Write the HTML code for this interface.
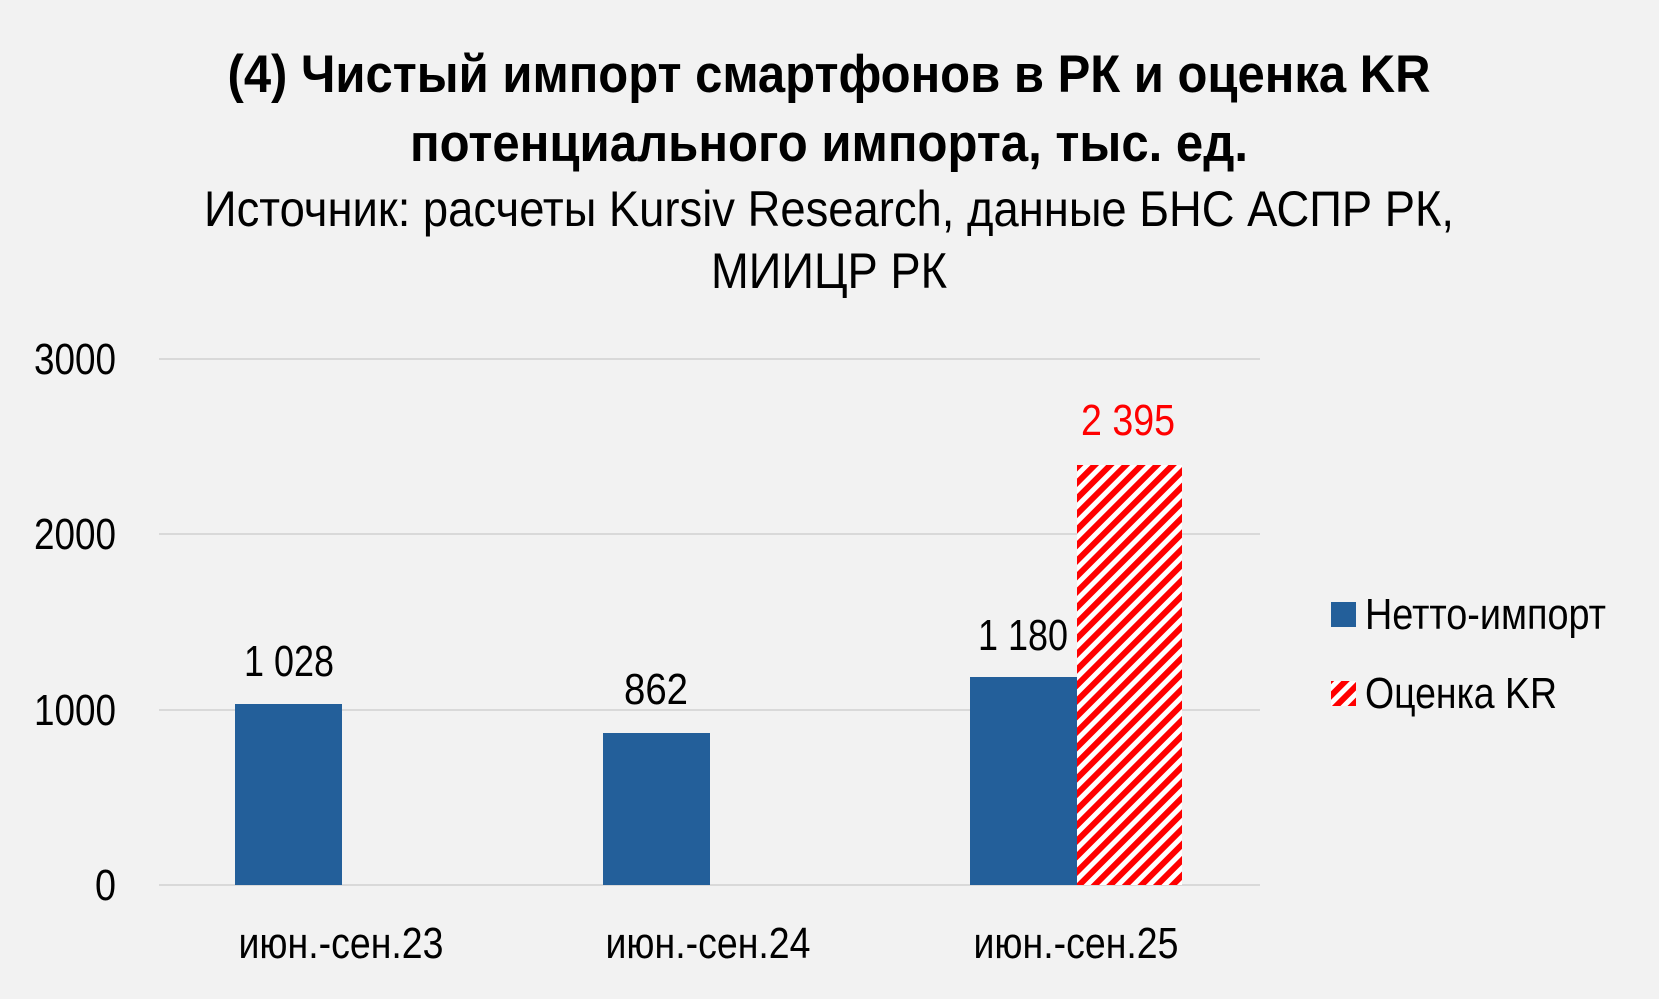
<!DOCTYPE html>
<html><head><meta charset="utf-8"><style>
html,body{margin:0;padding:0;background:#f2f2f2;}
svg{display:block;}
text{font-family:"Liberation Sans Narrow","Liberation Sans",sans-serif;}
</style></head><body>
<svg width="1659" height="999" viewBox="0 0 1659 999" xmlns="http://www.w3.org/2000/svg">
<defs>
<pattern id="hatch" width="11" height="11" patternUnits="userSpaceOnUse" patternTransform="rotate(-45)">
<rect width="11" height="11" fill="#fff"/>
<rect width="11" height="6" fill="#ff0000"/>
</pattern>
</defs>
<rect width="1659" height="999" fill="#f2f2f2"/>
<text x="829" y="92" text-anchor="middle" font-size="53" font-weight="bold" fill="#000" textLength="1203" lengthAdjust="spacingAndGlyphs">(4) Чистый импорт смартфонов в РК и оценка KR</text>
<text x="829" y="161" text-anchor="middle" font-size="53" font-weight="bold" fill="#000" textLength="838" lengthAdjust="spacingAndGlyphs">потенциального импорта, тыс. ед.</text>
<text x="829" y="226" text-anchor="middle" font-size="50" fill="#000" textLength="1250" lengthAdjust="spacingAndGlyphs">Источник: расчеты Kursiv Research, данные БНС АСПР РК,</text>
<text x="829" y="288" text-anchor="middle" font-size="50" fill="#000" textLength="236" lengthAdjust="spacingAndGlyphs">МИИЦР РК</text>
<g stroke="#d9d9d9" stroke-width="2">
<line x1="159" y1="359" x2="1260" y2="359"/>
<line x1="159" y1="534" x2="1260" y2="534"/>
<line x1="159" y1="710" x2="1260" y2="710"/>
<line x1="159" y1="885" x2="1260" y2="885"/>
</g>
<g font-size="44" fill="#000" text-anchor="end">
<text x="116" y="374" textLength="82" lengthAdjust="spacingAndGlyphs">3000</text>
<text x="116" y="549" textLength="82" lengthAdjust="spacingAndGlyphs">2000</text>
<text x="116" y="725" textLength="82" lengthAdjust="spacingAndGlyphs">1000</text>
<text x="116" y="900" textLength="21" lengthAdjust="spacingAndGlyphs">0</text>
</g>
<g fill="#235f9a">
<rect x="235" y="704" width="107" height="181"/>
<rect x="603" y="733" width="107" height="152"/>
<rect x="970" y="677" width="107" height="208"/>
</g>
<rect x="1077" y="465" width="105" height="420" fill="url(#hatch)"/>
<g font-size="44" fill="#000" text-anchor="middle">
<text x="289" y="676" textLength="90" lengthAdjust="spacingAndGlyphs">1 028</text>
<text x="656" y="704" textLength="64" lengthAdjust="spacingAndGlyphs">862</text>
<text x="1023" y="650" textLength="90" lengthAdjust="spacingAndGlyphs">1 180</text>
<text x="1128" y="435" fill="#ff0000" textLength="94" lengthAdjust="spacingAndGlyphs">2 395</text>
<text x="341" y="958" textLength="205" lengthAdjust="spacingAndGlyphs">июн.-сен.23</text>
<text x="708" y="958" textLength="205" lengthAdjust="spacingAndGlyphs">июн.-сен.24</text>
<text x="1076" y="958" textLength="205" lengthAdjust="spacingAndGlyphs">июн.-сен.25</text>
</g>
<rect x="1331" y="602" width="25" height="25" fill="#235f9a"/>
<rect x="1331" y="681" width="25" height="25" fill="url(#hatch)"/>
<g font-size="44" fill="#000">
<text x="1365" y="629" textLength="241" lengthAdjust="spacingAndGlyphs">Нетто-импорт</text>
<text x="1365" y="708" textLength="192" lengthAdjust="spacingAndGlyphs">Оценка KR</text>
</g>
</svg>
</body></html>
